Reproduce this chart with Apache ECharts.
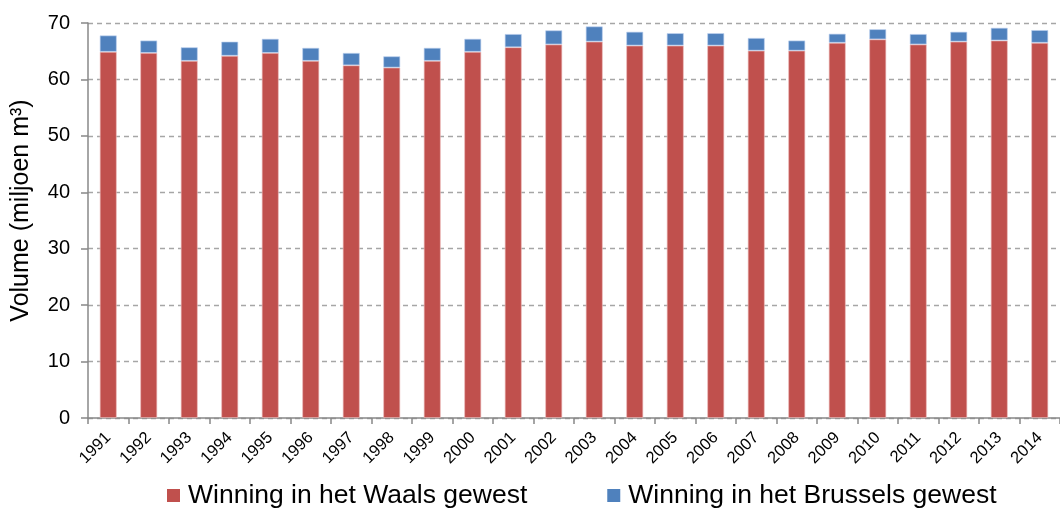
<!DOCTYPE html>
<html>
<head>
<meta charset="utf-8">
<script src="https://cdn.jsdelivr.net/npm/echarts@6/dist/echarts.min.js"></script>
<style>
  html, body { margin: 0; padding: 0; background: #fff; }
  #chart { width: 1060px; height: 508px; }
</style>
</head>
<body>
<div id="chart"></div>
<script>
// Jaarlijkse winning, miljoen m³
const years = ['1991','1992','1993','1994','1995','1996','1997','1998','1999','2000',
  '2001','2002','2003','2004','2005','2006','2007','2008','2009','2010',
  '2011','2012','2013','2014'];
const waals = [64.9, 64.7, 63.3, 64.2, 64.7, 63.3, 62.5, 62.1, 63.3, 64.9,
  65.7, 66.2, 66.7, 66.0, 66.0, 66.0, 65.1, 65.1, 66.5, 67.1,
  66.2, 66.7, 66.9, 66.5];
const brussel = [2.9, 2.2, 2.4, 2.5, 2.5, 2.3, 2.2, 2.0, 2.3, 2.3,
  2.35, 2.5, 2.7, 2.45, 2.2, 2.2, 2.25, 1.8, 1.6, 1.8,
  1.85, 1.75, 2.25, 2.25];
const seriesNames = ['Winning in het Waals gewest', 'Winning in het Brussels gewest'];
const yTitle = 'Volume (miljoen m³)';

const chart = echarts.init(document.getElementById('chart'), null, { renderer: 'canvas' });
const font = 'Liberation Sans, Arial, sans-serif';
chart.setOption({
  animation: false,
  textStyle: { fontFamily: font },
  grid: { left: 88, top: 23, width: 982, bottom: 90, containLabel: false },
  legend: {
    left: 162,
    bottom: -6,
    itemWidth: 13,
    itemHeight: 13,
    itemGap: 80,
    icon: 'rect',
    itemStyle: { borderWidth: 0 },
    textStyle: { fontSize: 26.5, color: '#000', fontFamily: font, padding: [0, 0, 0, 3] },
    data: seriesNames
  },
  xAxis: {
    type: 'category',
    data: years,
    axisLine: { lineStyle: { color: '#888', width: 1.5 } },
    axisTick: { show: true, length: 6, lineStyle: { color: '#888', width: 1.5 } },
    axisLabel: { rotate: 45, fontSize: 16.5, color: '#000', margin: 17, interval: 0 }
  },
  yAxis: {
    type: 'value',
    min: 0,
    max: 70,
    interval: 10,
    name: yTitle,
    nameLocation: 'middle',
    nameGap: 54,
    nameTextStyle: { fontSize: 25, color: '#000', padding: [0, 0, 0, 20] },
    axisLine: { show: true, lineStyle: { color: '#888', width: 1.5 } },
    axisTick: { show: true, length: 7, lineStyle: { color: '#888', width: 1.5 } },
    axisLabel: { fontSize: 20, color: '#000', margin: 18 },
    splitLine: { lineStyle: { color: '#a6a6a6', type: [5, 4], width: 1.3 } }
  },
  series: [
    {
      name: seriesNames[0],
      type: 'bar',
      stack: 'v',
      data: waals,
      barWidth: 17,
      itemStyle: { color: '#C0504D', borderColor: 'rgba(240,190,190,0.8)', borderWidth: 0.8 }
    },
    {
      name: seriesNames[1],
      type: 'bar',
      stack: 'v',
      data: brussel,
      barWidth: 17,
      itemStyle: { color: '#4F81BD', borderColor: 'rgba(190,210,240,0.8)', borderWidth: 0.8 }
    }
  ]
});
</script>
</body>
</html>
